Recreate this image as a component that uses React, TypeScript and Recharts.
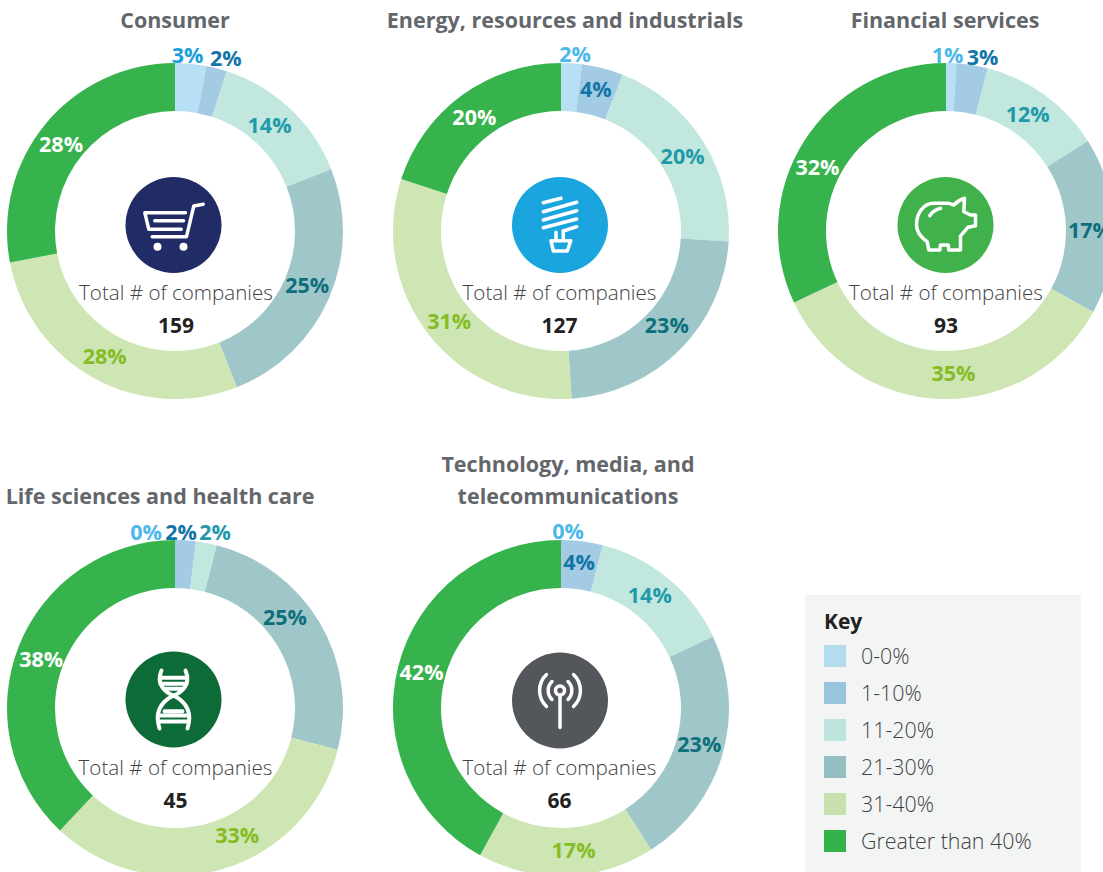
import { PieChart, Pie, Cell } from "recharts";

const bins = ["0-0%", "1-10%", "11-20%", "21-30%", "31-40%", "Greater than 40%"];

const consumer = [3, 2, 14, 25, 28, 28];
const energy = [2, 4, 20, 23, 31, 20];
const financial = [1, 3, 12, 17, 35, 32];
const lifeSciences = [0, 2, 2, 25, 33, 38];
const technology = [0, 4, 14, 23, 17, 42];

const totals = [159, 127, 93, 45, 66];

const keyColors = ["#b3dcf0", "#97c5dd", "#bce3dc", "#95bec2", "#c9e1af", "#33b34a"];
const fillColors = ["#b8e0f5", "#a3cbe3", "#c1e7df", "#9fc7c9", "#cde6b3", "#37b34d"];
const labelColors = ["#4db8ea", "#1275a8", "#1f9aa8", "#0e6f7c", "#86bc25", "#ffffff"];

const CHART_W = 360;
const CHART_H = 420;
const CX = 180;
const CY = 210;

const FONT = "'Open Sans', sans-serif";

// the source places its labels by hand, so each one gets a small shift off mid-ring
type Nudges = Record<number, [number, number]>;

function makeLabel(nudges: Nudges, firstColor?: string) {
  return function RingLabel(props: any) {
    const { cx, cy, midAngle, index, value } = props;
    const r = 144;
    const rad = (midAngle * Math.PI) / 180;
    const nudge = nudges[index] || [0, 0];
    const x = cx + r * Math.cos(rad) + nudge[0];
    const y = cy - r * Math.sin(rad) + nudge[1];
    const fill = index === 0 && firstColor ? firstColor : labelColors[index];
    return (
      <text
        x={x}
        y={y}
        textAnchor="middle"
        dominantBaseline="central"
        fontFamily={FONT}
        fontWeight={700}
        fontSize={21.5}
        fill={fill}
      >
        {value}%
      </text>
    );
  };
}

const iconLine = {
  fill: "none",
  stroke: "#fff",
  strokeWidth: 3.5,
  strokeLinecap: "round" as const,
  strokeLinejoin: "round" as const,
};

const CartIcon = () => (
  <g {...iconLine}>
    <path d="M29.7 -20.7 L20.3 -19 L13 11.7 L-21.3 11.7" />
    <path d="M12 -12.3 L-28.7 -12.3 L-24.7 4.3 L7.7 4.3" />
    <path d="M-18.7 -4.3 L10 -4.3" />
    <circle cx={-16} cy={21.7} r={4} fill="#fff" stroke="none" />
    <circle cx={10} cy={21.7} r={4} fill="#fff" stroke="none" />
  </g>
);

const BulbIcon = () => (
  <g {...iconLine}>
    <path d="M-16.7 -22.3 L1 -26.7" />
    <path d="M-16.7 -13.3 L16.7 -22.7" />
    <path d="M-16.7 -5 L16.7 -14.3" />
    <path d="M-16.7 2.7 L16.7 -6" />
    <path d="M3.3 6 L16.7 1.7" />
    <path d="M-4 7.3 L-4 15 M3.3 6 L3.3 15" />
    <path d="M-9 15.7 L10.7 15.7 L7.3 26 L-6.7 26 Z" />
  </g>
);

const PiggyIcon = () => (
  <g {...iconLine}>
    <path d="M19 -26.7 L18.3 -13.3 L25 -10 L30 -10 L30 0.7 L22.3 2.3 L15 11 L15 25 L3.3 25 L2.7 20 L-5 20 L-5.7 25 L-16.7 25 L-18.3 16.7 C-25 12 -29 7 -29 0 C-29 -12 -22 -21.7 -11.7 -21.7 L3.3 -21.7 L8.3 -20 Q13 -25 19 -26.7 Z" />
    <path d="M-15.7 -9.3 Q-12 -15 -5 -16.7" />
  </g>
);

const DnaIcon = () => (
  <g {...iconLine} strokeWidth={4}>
    <path d="M-12 -29 C-18 -15 -8 -7 0 -4 C10 1 20 10 14 29" />
    <path d="M12 -29 C18 -15 8 -7 0 -4 C-10 1 -20 10 -14 29" />
    <path d="M-13 -21.7 L13 -21.7 M-13 -15.7 L13 -15.7 M-9 -10.7 L9 -10.7" />
    <path d="M-9 11.7 L9 11.7 M-13 16 L13 16 M-13 22 L13 22" />
  </g>
);

const AntennaIcon = () => (
  <g {...iconLine}>
    <circle cx={0} cy={-10} r={4.5} />
    <path d="M0 -5 L0 27" />
    <path d="M-8 -19 A12.5 12.5 0 0 0 -8 -1 M8 -19 A12.5 12.5 0 0 1 8 -1" />
    <path d="M-13.5 -26 A22 22 0 0 0 -13.5 6 M13.5 -26 A22 22 0 0 1 13.5 6" />
  </g>
);

function Donut(props: {
  left: number;
  top: number;
  values: number[];
  total: number;
  nudges: Nudges;
  firstColor?: string;
  iconColor: string;
  iconX: number;
  iconY: number;
  textX: number;
  captionY: number;
  totalY: number;
  icon: any;
}) {
  const data = props.values.map((value, i) => ({ name: bins[i], value }));
  return (
    <div style={{ position: "absolute", left: props.left, top: props.top }}>
      <PieChart width={CHART_W} height={CHART_H} margin={{ top: 0, right: 0, bottom: 0, left: 0 }}>
        <Pie
          data={data}
          dataKey="value"
          nameKey="name"
          cx={CX}
          cy={CY}
          innerRadius={120}
          outerRadius={168}
          startAngle={90}
          endAngle={-270}
          stroke="none"
          labelLine={false}
          label={makeLabel(props.nudges, props.firstColor)}
          isAnimationActive={false}
        >
          {data.map((d, i) => (
            <Cell key={d.name} fill={fillColors[i]} />
          ))}
        </Pie>
        <g transform={`translate(${props.iconX} ${props.iconY})`}>
          <circle r={48} fill={props.iconColor} />
          {props.icon}
        </g>
        <text
          x={props.textX}
          y={props.captionY}
          textAnchor="middle"
          dominantBaseline="central"
          fontFamily={FONT}
          fontWeight={300}
          fontSize={20.6}
          fill="#3f4144"
        >
          Total # of companies
        </text>
        <text
          x={props.textX}
          y={props.totalY}
          textAnchor="middle"
          dominantBaseline="central"
          fontFamily={FONT}
          fontWeight={700}
          fontSize={21}
          fill="#222222"
        >
          {props.total}
        </text>
      </PieChart>
    </div>
  );
}

function Title({ x, y, lines }: { x: number; y: number; lines: string[] }) {
  return (
    <div
      style={{
        position: "absolute",
        left: x - 250,
        top: y,
        width: 500,
        textAlign: "center",
        fontFamily: FONT,
        fontWeight: 700,
        fontSize: 21.5,
        lineHeight: "32px",
        color: "#63666a",
      }}
    >
      {lines.map((l) => (
        <div key={l}>{l}</div>
      ))}
    </div>
  );
}

function Key() {
  return (
    <div
      style={{
        position: "absolute",
        left: 805,
        top: 595,
        width: 276,
        height: 277,
        background: "#f3f5f4",
        fontFamily: FONT,
      }}
    >
      <div
        style={{
          position: "absolute",
          left: 19,
          top: 11,
          fontWeight: 700,
          fontSize: 21,
          lineHeight: "30px",
          color: "#222222",
        }}
      >
        Key
      </div>
      {bins.map((b, i) => (
        <div key={b}>
          <div
            style={{
              position: "absolute",
              left: 19,
              top: 50 + i * 37,
              width: 22,
              height: 22,
              background: keyColors[i],
            }}
          />
          <div
            style={{
              position: "absolute",
              left: 56,
              top: 46 + i * 37,
              fontWeight: 300,
              fontSize: 21.4,
              lineHeight: "30px",
              color: "#3f4144",
              whiteSpace: "nowrap",
            }}
          >
            {b}
          </div>
        </div>
      ))}
    </div>
  );
}

export default function App() {
  return (
    <div
      style={{
        position: "fixed",
        left: 0,
        top: 0,
        width: 1103,
        height: 872,
        overflow: "hidden",
        background: "#fff",
      }}
    >
      <Title x={175} y={4} lines={["Consumer"]} />
      <Title x={565} y={4} lines={["Energy, resources and industrials"]} />
      <Title x={945} y={4} lines={["Financial services"]} />
      <Title x={160} y={480} lines={["Life sciences and health care"]} />
      <Title x={568} y={448} lines={["Technology, media, and", "telecommunications"]} />

      <Donut
        left={-5.5}
        top={21}
        values={consumer}
        total={totals[0]}
        nudges={{
          0: [-1, -33],
          1: [15, -34],
          2: [-4, -2],
          3: [0, -4],
          4: [-1, -2],
          5: [-3, 4],
        }}
        firstColor="#1a9fdc"
        iconColor="#212b65"
        iconX={178.5}
        iconY={204}
        textX={181}
        captionY={271}
        totalY={304}
        icon={<CartIcon />}
      />
      <Donut
        left={381}
        top={21}
        values={energy}
        total={totals[1]}
        nudges={{
          0: [5, -34],
          1: [-1, -3],
          2: [0, 2],
          3: [4, -8],
          4: [2, 1],
          5: [-2, 2],
        }}
        iconColor="#1ba5de"
        iconX={179}
        iconY={204}
        textX={178.5}
        captionY={271}
        totalY={304}
        icon={<BulbIcon />}
      />
      <Donut
        left={765.5}
        top={21}
        values={financial}
        total={totals[2]}
        nudges={{
          0: [-3, -33],
          1: [14, -32],
          2: [-3, -1],
          3: [0, 3],
          4: [12, -2],
          5: [-7, 13],
        }}
        iconColor="#41b14b"
        iconX={179.5}
        iconY={204}
        textX={180}
        captionY={271}
        totalY={304}
        icon={<PiggyIcon />}
      />
      <Donut
        left={-5.5}
        top={497.5}
        values={lifeSciences}
        total={totals[3]}
        nudges={{
          0: [-29, -33],
          1: [-3, -33],
          2: [13, -35],
          3: [-14, -18],
          4: [22, -12],
          5: [0, 4],
        }}
        iconColor="#0d6b38"
        iconX={178.5}
        iconY={201.5}
        textX={180.5}
        captionY={268.5}
        totalY={301.5}
        icon={<DnaIcon />}
      />
      <Donut
        left={381}
        top={497.5}
        values={technology}
        total={totals[4]}
        nudges={{
          0: [7, -34],
          1: [0, -4],
          2: [-3, -3],
          3: [0, -5],
          4: [8, -2],
          5: [0, -1],
        }}
        iconColor="#53565a"
        iconX={179}
        iconY={202.5}
        textX={178.5}
        captionY={268.5}
        totalY={301.5}
        icon={<AntennaIcon />}
      />
      <Key />
    </div>
  );
}
